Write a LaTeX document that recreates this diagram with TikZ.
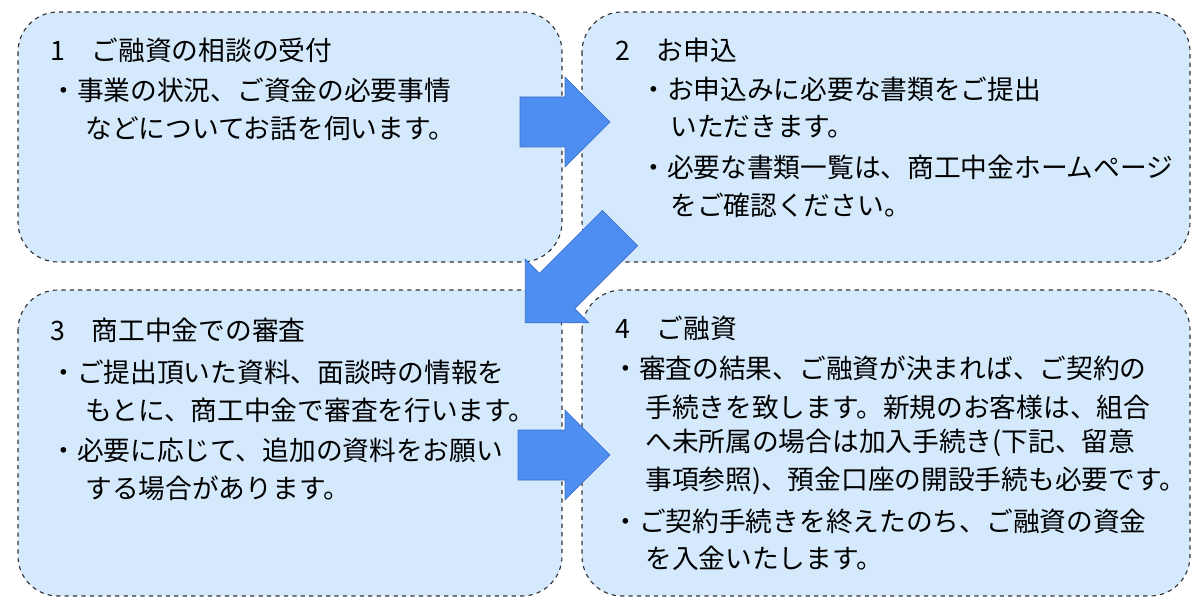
\documentclass[tikz,border=0pt]{standalone}
\usepackage{fontspec}
\setmainfont{Noto Sans CJK JP}
\definecolor{boxfill}{RGB}{212,233,252}
\definecolor{arrowfill}{RGB}{78,142,240}
\definecolor{arrowline}{RGB}{60,110,200}
\begin{document}
\begin{tikzpicture}
		[x=0.025cm,y=-0.025cm,
		%Styles
		step box/.style={draw=black!80,dashed,thick,fill=boxfill,rounded corners=1cm},
		arrow body/.style={draw=arrowline,fill=arrowfill,line join=miter},
		line text/.style={anchor=west,inner sep=0pt,font=\fontsize{19}{21}\selectfont},
		pics/flow arrow/.style={code={
			\draw[arrow body] (0,-25) -- (#1-45,-25) -- (#1-45,-45) -- (#1,0)
				-- (#1-45,45) -- (#1-45,25) -- (0,25) -- cycle;}}
		]
		\useasboundingbox (0,0) rectangle (1200,609);
		
		%Boxes
		\draw[step box] (18,12) rectangle (562,262);
		\draw[step box] (582,12) rectangle (1190,262);
		\draw[step box] (18,290) rectangle (562,596);
		\draw[step box] (582,290) rectangle (1190,596);
		
		%Arrows
		\pic (right1) at (520,122) {flow arrow=90};
		\pic[rotate=-135] (diag) at (620,228) {flow arrow=134};
		\pic (right2) at (518,455) {flow arrow=92};
		
		%Box 1
		\node[line text] (t1) at (50,50) {1\quad ご融資の相談の受付};
		\node[line text] (t1a) at (50,90) {・事業の状況、ご資金の必要事情};
		\node[line text] (t1b) at (85,128) {などについてお話を伺います。};
		
		%Box 2
		\node[line text] (t2) at (615,50) {2\quad お申込};
		\node[line text] (t2a) at (640,89) {・お申込みに必要な書類をご提出};
		\node[line text] (t2b) at (670,127) {いただきます。};
		\node[line text] (t2c) at (640,167) {・必要な書類一覧は、商工中金ホームページ};
		\node[line text] (t2d) at (670,205) {をご確認ください。};
		
		%Box 3
		\node[line text] (t3) at (50,330) {3\quad 商工中金での審査};
		\node[line text] (t3a) at (50,372) {・ご提出頂いた資料、面談時の情報を};
		\node[line text] (t3b) at (85,410) {もとに、商工中金で審査を行います。};
		\node[line text] (t3c) at (50,450) {・必要に応じて、追加の資料をお願い};
		\node[line text] (t3d) at (85,488) {する場合があります。};
		
		%Box 4
		\node[line text] (t4) at (615,328) {4\quad ご融資};
		\node[line text] (t4a) at (612,368) {・審査の結果、ご融資が決まれば、ご契約の};
		\node[line text] (t4b) at (645,407) {手続きを致します。新規のお客様は、組合};
		\node[line text] (t4c) at (645,443) {へ未所属の場合は加入手続き(下記、留意};
		\node[line text] (t4d) at (645,481) {事項参照)、預金口座の開設手続も必要です。};
		\node[line text] (t4e) at (612,521) {・ご契約手続きを終えたのち、ご融資の資金};
		\node[line text] (t4f) at (645,558) {を入金いたします。};
	\end{tikzpicture}
\end{document}
